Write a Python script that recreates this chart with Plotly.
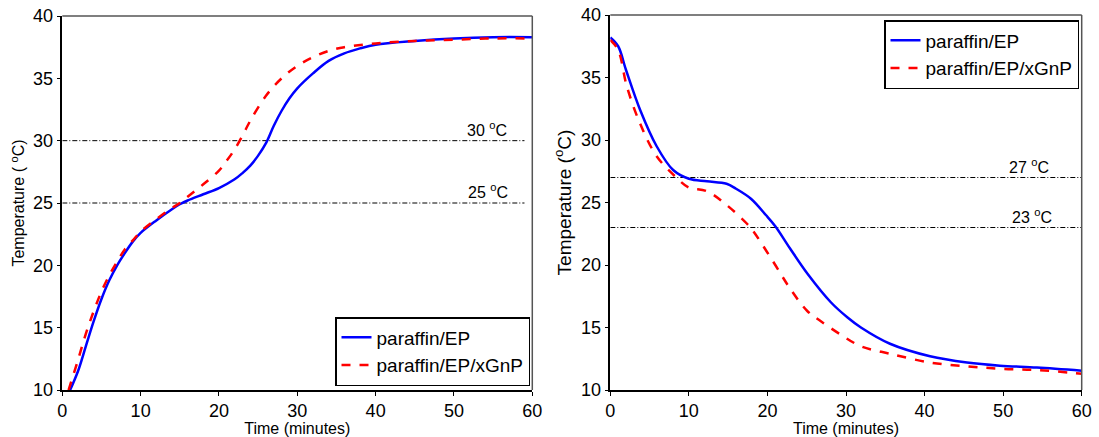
import plotly.graph_objects as go

# ---- Data ----
heat_t_ep = [1, 2, 3, 4, 5, 6, 7, 8, 9, 10, 12, 14, 15, 16, 18, 20, 22, 23, 24, 25, 26, 27, 28, 29, 30, 32, 34, 36, 38, 40, 45, 50, 55, 60]
heat_T_ep = [10.0, 11.5, 13.5, 15.5, 17.3, 18.8, 20.0, 21.0, 21.9, 22.6, 23.6, 24.5, 24.9, 25.2, 25.7, 26.2, 26.9, 27.4, 28.0, 28.8, 29.8, 31.2, 32.4, 33.4, 34.2, 35.4, 36.4, 37.0, 37.4, 37.7, 38.0, 38.2, 38.3, 38.3]

heat_t_gnp = [0.8, 1, 2, 3, 4, 5, 6, 7, 8, 9, 10, 12, 14, 15, 16, 18, 20, 21, 22, 23, 24, 26, 28, 30, 32, 34, 36, 40, 45, 50, 55, 60]
heat_T_gnp = [10.0, 10.4, 12.4, 14.5, 16.3, 17.9, 19.2, 20.3, 21.3, 22.0, 22.7, 23.7, 24.6, 25.0, 25.5, 26.5, 27.6, 28.4, 29.3, 30.4, 31.6, 33.6, 35.0, 36.0, 36.7, 37.2, 37.5, 37.8, 38.0, 38.1, 38.2, 38.2]

cool_t_ep = [0, 1, 2, 3.8, 5.9, 8.0, 10, 12.3, 14.8, 16, 17.9, 19.8, 21, 22.9, 25.1, 28.1, 30.2, 31.9, 35.6, 40.7, 45.4, 49.6, 54.3, 60]
cool_T_ep = [38.2, 37.5, 35.6, 32.4, 29.5, 27.6, 26.9, 26.7, 26.5, 26.1, 25.3, 24.0, 23.1, 21.3, 19.3, 17.0, 15.8, 15.0, 13.7, 12.7, 12.2, 11.95, 11.8, 11.55]

cool_t_gnp = [0, 1, 2.1, 3.8, 5.9, 8.4, 10, 12.3, 14.8, 17.4, 18.2, 20.8, 22.9, 25.1, 26.8, 29.4, 31.9, 35.6, 40.7, 45.4, 49.6, 54.3, 60]
cool_T_gnp = [38.0, 37.2, 34.3, 31.3, 28.7, 27.0, 26.2, 25.9, 24.8, 23.3, 22.7, 20.2, 18.1, 16.3, 15.5, 14.4, 13.5, 12.9, 12.2, 11.9, 11.7, 11.6, 11.3]

heat_ref_levels = [30, 25]
heat_ref_span = [0, 59]
cool_ref_levels = [27, 23]
cool_ref_span = [0, 60]

series_names = ["paraffin/EP", "paraffin/EP/xGnP"]

W, H = 1099, 437
FONT = "Liberation Sans, Arial, sans-serif"

fig = go.Figure()

REF_DASH = "5px,2px,1px,2px"

# Reference lines
for lv in heat_ref_levels:
    fig.add_trace(go.Scatter(x=heat_ref_span, y=[lv, lv], mode="lines", xaxis="x", yaxis="y",
                             line=dict(color="black", width=1, dash=REF_DASH), showlegend=False, hoverinfo="skip"))
for lv in cool_ref_levels:
    fig.add_trace(go.Scatter(x=cool_ref_span, y=[lv, lv], mode="lines", xaxis="x2", yaxis="y2",
                             line=dict(color="black", width=1, dash=REF_DASH), showlegend=False, hoverinfo="skip"))

# Heating curves
fig.add_trace(go.Scatter(x=heat_t_ep, y=heat_T_ep, mode="lines", name=series_names[0], xaxis="x", yaxis="y",
                         line=dict(color="#0000ff", width=2.5, shape="spline"), legend="legend"))
fig.add_trace(go.Scatter(x=heat_t_gnp, y=heat_T_gnp, mode="lines", name=series_names[1], xaxis="x", yaxis="y",
                         line=dict(color="#ff0000", width=2.5, dash="dash", shape="spline"), legend="legend"))
# Cooling curves
fig.add_trace(go.Scatter(x=cool_t_ep, y=cool_T_ep, mode="lines", name=series_names[0], xaxis="x2", yaxis="y2",
                         line=dict(color="#0000ff", width=2.5, shape="spline"), legend="legend2"))
fig.add_trace(go.Scatter(x=cool_t_gnp, y=cool_T_gnp, mode="lines", name=series_names[1], xaxis="x2", yaxis="y2",
                         line=dict(color="#ff0000", width=2.5, dash="dash", shape="spline"), legend="legend2"))

axis_common = dict(showgrid=False, zeroline=False, showline=True, linecolor="black", linewidth=1.5,
                   ticks="outside", ticklen=4, tickcolor="black", tickfont=dict(size=18, family=FONT, color="black"),
                   automargin=False)

lx0, lx1 = 62.3 / W, 532.3 / W
rx0, rx1 = 610.3 / W, 1081.7 / W
ly0, ly1 = 1 - 390 / H, 1 - 16 / H
ry0, ry1 = 1 - 390 / H, 1 - 15 / H

fig.update_layout(
    width=W, height=H,
    margin=dict(l=0, r=0, t=0, b=0),
    paper_bgcolor="white", plot_bgcolor="white",
    font=dict(family=FONT, color="black", size=16),
    xaxis=dict(axis_common, domain=[lx0, lx1], range=[0, 60], dtick=10, anchor="y",
               title=dict(text="Time (minutes)", font=dict(size=16, family=FONT), standoff=1)),
    yaxis=dict(axis_common, domain=[ly0, ly1], range=[10, 40], dtick=5, anchor="x",
               title=dict(text="Temperature ( <sup>o</sup>C)", font=dict(size=16, family=FONT), standoff=4)),
    xaxis2=dict(axis_common, domain=[rx0, rx1], range=[0, 60], dtick=10, anchor="y2",
                title=dict(text="Time (minutes)", font=dict(size=16, family=FONT), standoff=1)),
    yaxis2=dict(axis_common, domain=[ry0, ry1], range=[10, 40], dtick=5, anchor="x2",
                title=dict(text="Temperature (<sup>o</sup>C)", font=dict(size=19, family=FONT), standoff=4)),
    legend=dict(x=530 / W, y=1 - 386 / H, xanchor="right", yanchor="bottom",
                bordercolor="black", borderwidth=1.5, bgcolor="white",
                font=dict(size=19, family=FONT), tracegroupgap=0, itemwidth=30),
    legend2=dict(x=1079 / W, y=1 - 20 / H, xanchor="right", yanchor="top",
                 bordercolor="black", borderwidth=1.5, bgcolor="white",
                 font=dict(size=19, family=FONT), tracegroupgap=0, itemwidth=30),
    showlegend=True,
)

# Top / right frame lines (gray)
for xr, yr in (("x", "y"), ("x2", "y2")):
    fig.add_shape(type="line", xref=f"{xr} domain", yref=f"{yr} domain", x0=0, x1=1, y0=1, y1=1,
                  line=dict(color="#555555", width=1.5))
    fig.add_shape(type="line", xref=f"{xr} domain", yref=f"{yr} domain", x0=1, x1=1, y0=0, y1=1,
                  line=dict(color="#555555", width=1.5))

# Level labels
ann_font = dict(size=16, family=FONT, color="black")
fig.add_annotation(x=54.2, y=30, xref="x", yref="y", text="30 <sup>o</sup>C", showarrow=False,
                   yanchor="bottom", font=ann_font)
fig.add_annotation(x=54.4, y=25, xref="x", yref="y", text="25 <sup>o</sup>C", showarrow=False,
                   yanchor="bottom", font=ann_font)
fig.add_annotation(x=53.3, y=27, xref="x2", yref="y2", text="27 <sup>o</sup>C", showarrow=False,
                   yanchor="bottom", font=ann_font)
fig.add_annotation(x=53.7, y=23, xref="x2", yref="y2", text="23 <sup>o</sup>C", showarrow=False,
                   yanchor="bottom", font=ann_font)

fig.write_html("out.html", config={"displayModeBar": False},
               post_script="document.body.style.margin='0';")
